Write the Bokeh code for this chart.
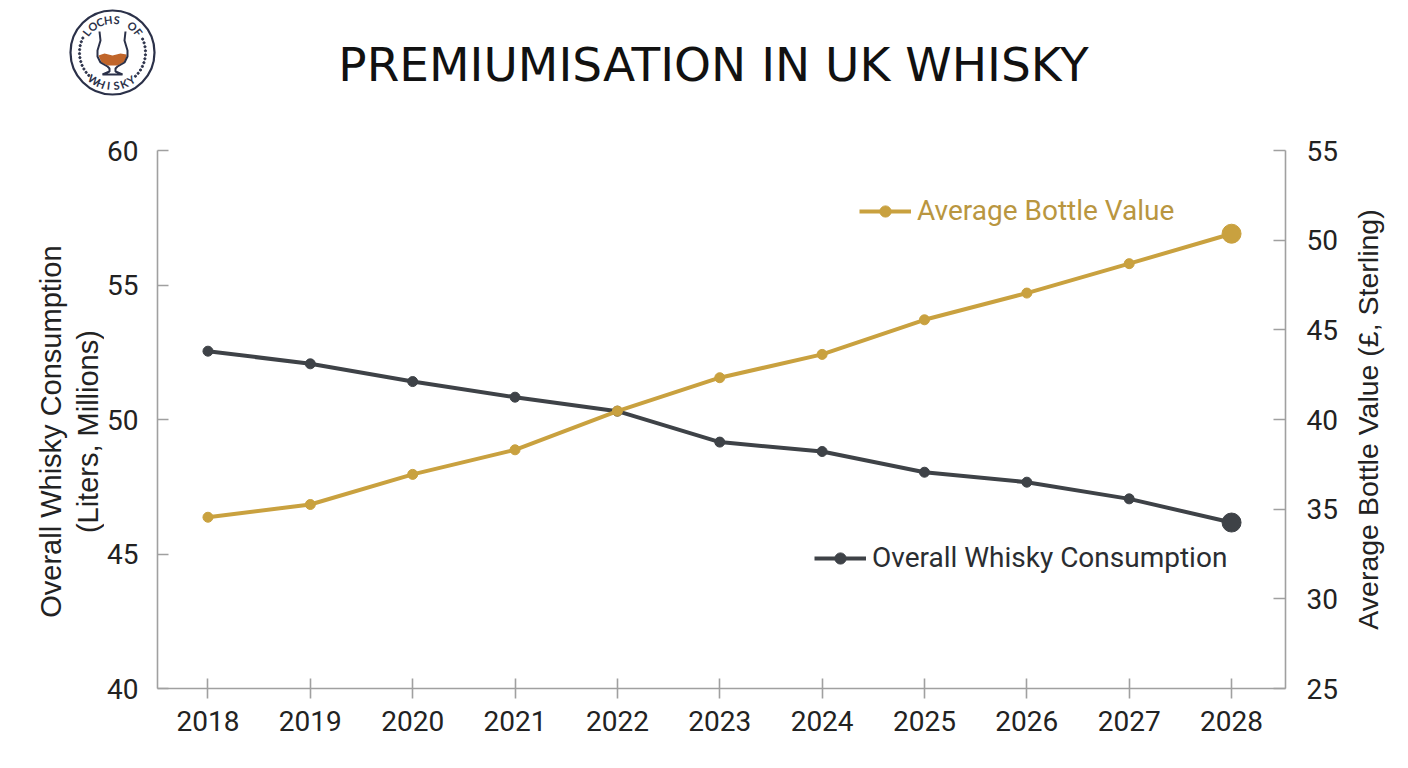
import math
from bokeh.plotting import figure
from bokeh.models import Range1d, LinearAxis, FixedTicker, Legend, LegendItem, ColumnDataSource
from bokeh.layouts import row
from bokeh.core.properties import value
from bokeh.embed import file_html
from bokeh.resources import INLINE

# ---------------- data ----------------
years = [2018, 2019, 2020, 2021, 2022, 2023, 2024, 2025, 2026, 2027, 2028]
consumption = [52.54, 52.07, 51.41, 50.83, 50.31, 49.16, 48.81, 48.04, 47.67, 47.05, 46.17]
bottle_value = [34.55, 35.26, 36.94, 38.31, 40.47, 42.33, 43.63, 45.56, 47.05, 48.69, 50.36]
left_ticks = [40, 45, 50, 55, 60]
right_ticks = [25, 30, 35, 40, 45, 50, 55]
title_text = "PREMIUMISATION IN UK WHISKY"
left_label_lines = ["Overall Whisky Consumption", "(Liters, Millions)"]
right_label = "Average Bottle Value (£, Sterling)"
name_cons = "Overall Whisky Consumption"
name_val = "Average Bottle Value"

GOLD = "#C9A13F"
GOLD_TXT = "#B99640"
DARK = "#3E4247"
NAVY = "#2B3149"
AXIS = "#A0A0A0"
TXT = "#222222"

W = 1408
TOP_H = 110
MAIN_H = 768 - TOP_H
LEFT_W = 104
SIDE_W = 63
MAIN_W = W - SIDE_W - LEFT_W

# ---------------- header (logo + title) ----------------
top = figure(width=W, height=TOP_H, output_backend="svg", toolbar_location=None,
             x_range=Range1d(0, W), y_range=Range1d(TOP_H, 0),
             x_axis_location=None, y_axis_location=None,
             min_border=0, outline_line_color=None)
top.grid.visible = False

top.text(x=[713], y=[64], text=[title_text], text_font=value("DejaVu Sans"),
         text_font_size="47px", text_color="#111111", text_align="center",
         text_baseline="middle")

cx, cy = 112, 52
top.circle(x=[cx], y=[cy], radius=42, fill_color="white", line_color=NAVY, line_width=2.2)

def arc_letters(txt, a0, a1, r, upright_out=True):
    xs, ys, angs = [], [], []
    n = len(txt)
    for i, ch in enumerate(txt):
        th = a0 + (a1 - a0) * (i / (n - 1))
        t = math.radians(th)
        xs.append(cx + r * math.cos(t))
        ys.append(cy - r * math.sin(t))
        angs.append(math.radians(th - 90) if upright_out else math.radians(th + 90))
    return xs, ys, angs

lx, ly, la = arc_letters("LOCHS OF", 142, 38, 33)
top.text(x=lx, y=ly, text=list("LOCHS OF"), angle=la, text_font=value("Lato"),
         text_font_size="11px", text_font_style="bold", text_color=NAVY,
         text_align="center", text_baseline="middle")
wx, wy, wa = arc_letters("WHISKY", 236, 304, 33, upright_out=False)
top.text(x=wx, y=wy, text=list("WHISKY"), angle=wa, text_font=value("Lato"),
         text_font_size="11px", text_font_style="bold", text_color=NAVY,
         text_align="center", text_baseline="middle")

dx, dy = [], []
for th in list(range(154, 226, 7)) + list(range(-46, 28, 7)):
    t = math.radians(th)
    dx.append(cx + 33 * math.cos(t))
    dy.append(cy - 33 * math.sin(t))
top.scatter(x=dx, y=dy, size=2.2, color=NAVY)

half = [(13, 31), (12, 40), (15, 50), (15, 56), (12, 62), (5, 66), (3, 68), (3, 71), (10, 74)]
gx = [cx + q[0] for q in half] + [cx - q[0] for q in reversed(half)]
gy = [q[1] for q in half] + [q[1] for q in reversed(half)]
liq_x = [cx - 14, cx - 8, cx, cx + 8, cx + 14, cx + 14, cx + 11, cx + 5, cx - 5, cx - 11]
liq_y = [55, 53, 55, 53, 54, 57, 62, 65, 65, 62]
top.patch(x=liq_x, y=liq_y, fill_color="#C0652A", line_color=None)
top.line(x=gx, y=gy, line_color=NAVY, line_width=2)

# ---------------- left-hand axis title ----------------
lside = figure(width=LEFT_W, height=MAIN_H, output_backend="svg", toolbar_location=None,
               x_range=Range1d(0, LEFT_W), y_range=Range1d(40, 60),
               x_axis_location=None, y_axis_location=None,
               min_border_left=0, min_border_right=0, min_border_top=40,
               min_border_bottom=80, outline_line_color=None)
lside.grid.visible = False
lside.text(x=[50, 87], y=[49.55, 49.55], text=left_label_lines, angle=math.pi / 2,
           text_font=value("Liberation Sans"), text_font_size="29px",
           text_color=TXT, text_align="center", text_baseline="middle")

# ---------------- main chart ----------------
X0, X1 = 2017.507, 2028.527
p = figure(width=MAIN_W, height=MAIN_H, output_backend="svg", toolbar_location=None,
           x_range=Range1d(X0, X1), y_range=Range1d(40, 60),
           min_border_left=156 - LEFT_W, min_border_right=LEFT_W + MAIN_W - 1285,
           min_border_top=40, min_border_bottom=80, outline_line_color=None)
p.grid.visible = False
p.extra_y_ranges = {"bv": Range1d(25, 55)}

src = ColumnDataSource(dict(year=years, cons=consumption, val=bottle_value))
last = ColumnDataSource(dict(year=years[-1:], cons=consumption[-1:], val=bottle_value[-1:]))

c_line = p.line("year", "cons", source=src, line_color=DARK, line_width=4)
c_pts = p.scatter("year", "cons", source=src, size=10, color=DARK)
p.scatter("year", "cons", source=last, size=19, color=DARK)

v_line = p.line("year", "val", source=src, line_color=GOLD, line_width=4, y_range_name="bv")
v_pts = p.scatter("year", "val", source=src, size=10, color=GOLD, y_range_name="bv")
p.scatter("year", "val", source=last, size=19, color=GOLD, y_range_name="bv")

xa = p.xaxis[0]
xa.ticker = FixedTicker(ticks=years)
xa.major_tick_in = 10
xa.major_tick_out = 10
xa.minor_tick_line_color = None
xa.major_label_standoff = 12

ya = p.yaxis[0]
ya.ticker = FixedTicker(ticks=left_ticks)
ya.major_tick_in = 11
ya.major_tick_out = 0
ya.minor_tick_line_color = None
ya.major_label_standoff = 19

ra = LinearAxis(y_range_name="bv", ticker=FixedTicker(ticks=right_ticks))
ra.major_tick_in = 12
ra.major_tick_out = 0
ra.minor_tick_line_color = None
ra.major_label_standoff = 21
p.add_layout(ra, "right")

for ax in [xa, ya, ra]:
    ax.axis_line_color = AXIS
    ax.axis_line_width = 1.6
    ax.major_tick_line_color = AXIS
    ax.major_tick_line_width = 1.6
    ax.major_label_text_font = "Roboto"
    ax.major_label_text_font_size = "28px"
    ax.major_label_text_color = TXT

def mk_legend(label, rends, loc, color):
    return Legend(items=[LegendItem(label=label, renderers=rends)], location=loc,
                  padding=0, margin=0, border_line_alpha=0, background_fill_alpha=0,
                  glyph_width=52, glyph_height=28, label_height=28, label_standoff=6,
                  label_text_font="Roboto", label_text_font_size="28px",
                  label_text_color=color)

p.add_layout(mk_legend(name_val, [v_line, v_pts], (702, 461), GOLD_TXT), "center")
p.add_layout(mk_legend(name_cons, [c_line, c_pts], (657, 114), "#2A2D31"), "center")

# ---------------- right-hand axis title (reads bottom to top) ----------------
side = figure(width=SIDE_W, height=MAIN_H, output_backend="svg", toolbar_location=None,
              x_range=Range1d(0, SIDE_W), y_range=Range1d(25, 55),
              x_axis_location=None, y_axis_location=None,
              min_border_left=0, min_border_right=0, min_border_top=40,
              min_border_bottom=80, outline_line_color=None)
side.grid.visible = False
side.text(x=[1367 - LEFT_W - MAIN_W], y=[40], text=[right_label], angle=math.pi / 2,
          text_font=value("Liberation Sans"), text_font_size="28.5px",
          text_color=TXT, text_align="center", text_baseline="middle")

open("out.html", "w").write(file_html([top, row(lside, p, side, spacing=0)], INLINE))
